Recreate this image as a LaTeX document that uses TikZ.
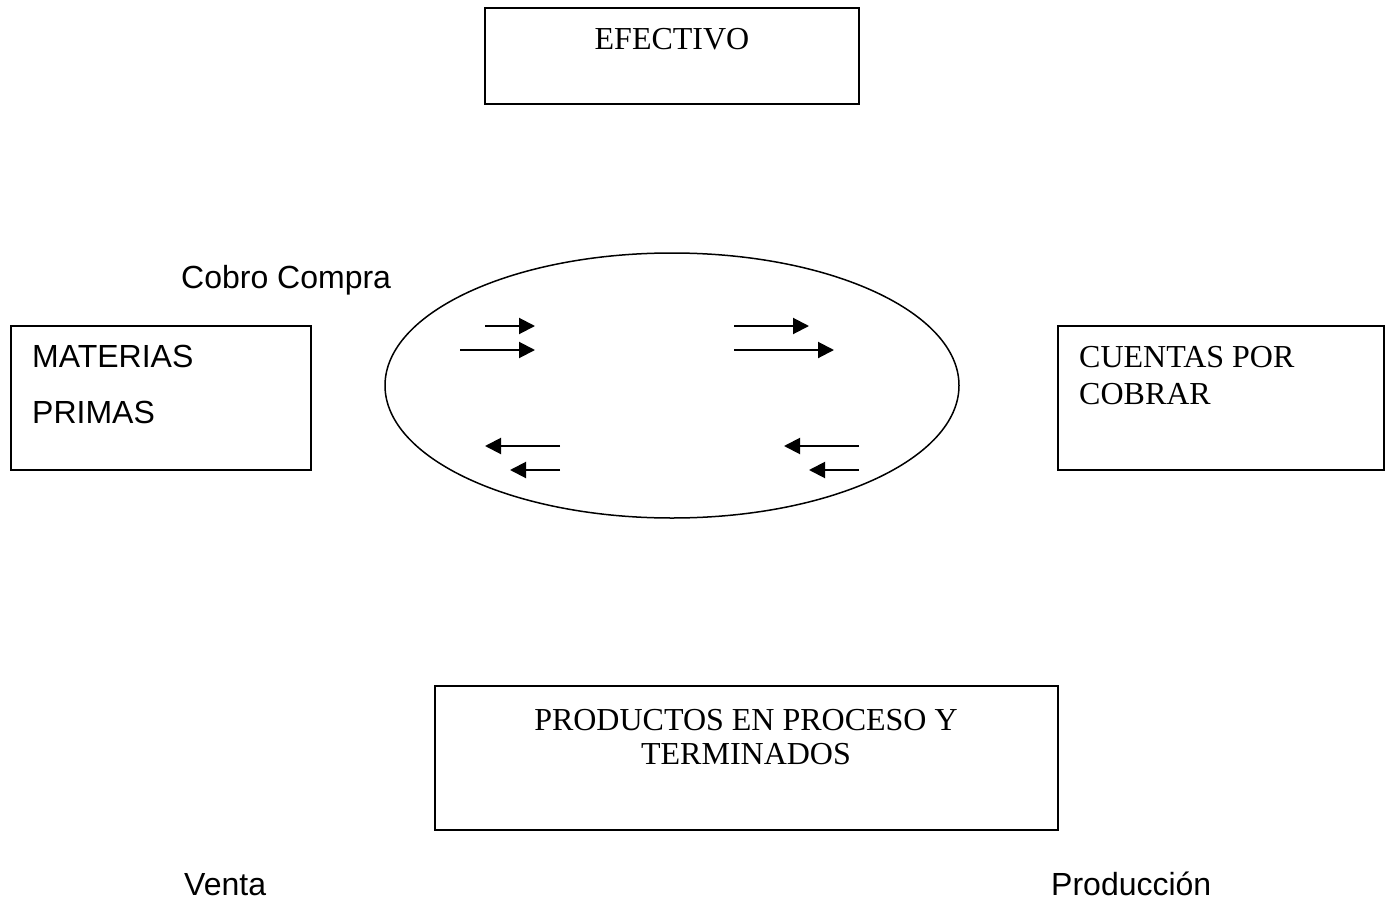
\documentclass[tikz,border=0pt]{standalone}
\usepackage{fontspec}
\setmainfont{Liberation Serif}
\newfontfamily\arialf{Liberation Sans}
\usetikzlibrary{arrows.meta}
\begin{document}
\begin{tikzpicture}[x=1pt,y=-1pt,
  boxst/.style={draw,line width=1.8pt},
  sertext/.style={font=\fontsize{32}{36}\selectfont,inner sep=0pt,anchor=base west},
  santext/.style={font=\arialf\fontsize{32}{36}\selectfont,inner sep=0pt,anchor=base west},
  flow/.style={line width=2pt,-{Triangle[length=16pt,width=16pt]}}]
\useasboundingbox (0,0) rectangle (1389,899);
% boxes
\draw[boxst] (485,8) rectangle (859,104);
\draw[boxst] (11,326) rectangle (311,470);
\draw[boxst] (1058,326) rectangle (1384,470);
\draw[boxst] (435,686) rectangle (1058,830);
% ellipse
\draw[line width=1.5pt] (672,385.5) ellipse [x radius=287, y radius=132.5];
% texts
\node[sertext,anchor=base] (efe) at (672,49) {EFECTIVO};
\node[santext] (cc) at (181,288) {Cobro Compra};
\node[santext] (mat1) at (32,367) {MATERIAS};
\node[santext] (mat2) at (32,423) {PRIMAS};
\node[sertext] (cue1) at (1079,367) {CUENTAS POR};
\node[sertext] (cue2) at (1079,404) {COBRAR};
\node[sertext,anchor=base] (pro1) at (746,730) {PRODUCTOS EN PROCESO Y};
\node[sertext,anchor=base] (pro2) at (746,764) {TERMINADOS};
\node[santext] (ven) at (184,895) {Venta};
\node[santext] (prd) at (1051,895) {Producción};
% arrows
\draw[flow] (485,326) -- (535,326);
\draw[flow] (460,350) -- (535,350);
\draw[flow] (734,326) -- (809,326);
\draw[flow] (734,350) -- (834,350);
\draw[flow] (560,446) -- (485,446);
\draw[flow] (560,470) -- (510,470);
\draw[flow] (859,446) -- (784,446);
\draw[flow] (859,470) -- (809,470);
\end{tikzpicture}
\end{document}
